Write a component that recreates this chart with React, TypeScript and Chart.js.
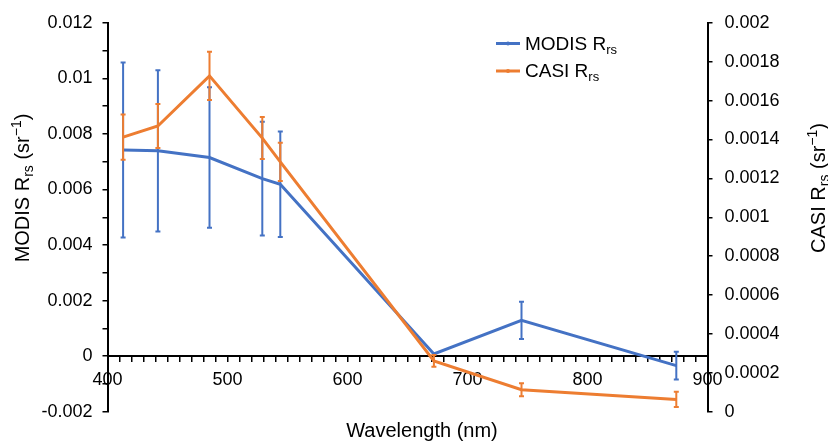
import { useEffect, useRef } from 'react';
import { Chart, registerables } from 'chart.js';

Chart.register(...registerables);

// ---- data ----
const wavelengths = [413, 442, 485, 529, 544, 672, 745, 874];
const modisRrs = [0.00742, 0.00739, 0.00715, 0.00639, 0.00619, 0.00008, 0.00129, -0.00034];
const modisErr = [0.00315, 0.0029, 0.00253, 0.00205, 0.0019, 0, 0.00067, 0.0005];
const casiRrs = [0.001412, 0.001469, 0.001727, 0.001407, 0.001285, 0.000261, 0.000113, 0.000063];
const casiErr = [0.000116, 0.000113, 0.000124, 0.000108, 0.0000985, 0.00003, 0.000033, 0.000039];

const xTickLabels = ['400', '500', '600', '700', '800', '900'];
const leftTickLabels = ['-0.002', '0', '0.002', '0.004', '0.006', '0.008', '0.01', '0.012'];
const rightTickLabels = ['0', '0.0002', '0.0004', '0.0006', '0.0008', '0.001', '0.0012', '0.0014', '0.0016', '0.0018', '0.002'];

const seriesNames = ['MODIS R', 'CASI R'];
const subText = 'rs';
const xTitle = 'Wavelength (nm)';

const FONT = '"Liberation Sans", Arial, Helvetica, sans-serif';
const BLUE = '#4472C4';
const ORANGE = '#ED7D31';

function findLabel(labels: string[], v: number, tol: number) {
  const f = labels.find((l) => Math.abs(parseFloat(l) - v) < tol);
  return f === undefined ? '' : f;
}

type Part = { text: string; size: number; dy: number };

function drawRich(ctx: CanvasRenderingContext2D, parts: Part[], x: number, y: number, rotation: number, align: 'center' | 'left') {
  ctx.save();
  ctx.translate(x, y);
  ctx.rotate(rotation);
  ctx.textBaseline = 'alphabetic';
  ctx.textAlign = 'left';
  ctx.fillStyle = '#000';
  const widths = parts.map((p) => {
    ctx.font = `${p.size}px ${FONT}`;
    return ctx.measureText(p.text).width;
  });
  const total = widths.reduce((a, b) => a + b, 0);
  let cx = align === 'center' ? -total / 2 : 0;
  parts.forEach((p, i) => {
    ctx.font = `${p.size}px ${FONT}`;
    ctx.fillText(p.text, cx, p.dy);
    cx += widths[i];
  });
  ctx.restore();
}

function titleParts(name: string, big: number, small: number): Part[] {
  return [
    { text: name, size: big, dy: 0 },
    { text: subText, size: small, dy: 4 },
    { text: ' (sr', size: big, dy: 0 },
    { text: '\u22121', size: small, dy: -8 },
    { text: ')', size: big, dy: 0 },
  ];
}

const errorSets = [modisErr, casiErr];

const errorBarPlugin = {
  id: 'errorBars',
  afterDatasetDraw(chart: any, args: any) {
    const ds = chart.data.datasets[args.index];
    const errs = errorSets[args.index];
    const values = args.index === 0 ? modisRrs : casiRrs;
    const xs = chart.scales.x;
    const ys = chart.scales[ds.yAxisID];
    const ctx = chart.ctx as CanvasRenderingContext2D;
    ctx.save();
    ctx.strokeStyle = ds.borderColor;
    ctx.lineWidth = 2;
    for (let i = 0; i < values.length; i++) {
      if (!errs[i]) continue;
      const x = xs.getPixelForValue(wavelengths[i]);
      const yt = ys.getPixelForValue(values[i] + errs[i]);
      const yb = ys.getPixelForValue(values[i] - errs[i]);
      ctx.beginPath();
      ctx.moveTo(x, yt);
      ctx.lineTo(x, yb);
      ctx.moveTo(x - 2.5, yt);
      ctx.lineTo(x + 2.5, yt);
      ctx.moveTo(x - 2.5, yb);
      ctx.lineTo(x + 2.5, yb);
      ctx.stroke();
    }
    ctx.restore();
  },
};

const textPlugin = {
  id: 'richText',
  afterDraw(chart: any) {
    const ctx = chart.ctx as CanvasRenderingContext2D;
    const cy = 188;
    drawRich(ctx, titleParts(seriesNames[0], 20, 14), 28.5, cy, -Math.PI / 2, 'center');
    drawRich(ctx, titleParts(seriesNames[1], 20, 14), 825, cy, -Math.PI / 2, 'center');
    drawRich(ctx, [{ text: xTitle, size: 20, dy: 0 }], 422, 437, 0, 'center');

    // legend
    const colors = [BLUE, ORANGE];
    const lineYs = [43.5, 71];
    colors.forEach((c, i) => {
      ctx.save();
      ctx.strokeStyle = c;
      ctx.lineWidth = 3;
      ctx.beginPath();
      ctx.moveTo(496, lineYs[i]);
      ctx.lineTo(520, lineYs[i]);
      ctx.stroke();
      ctx.fillStyle = c;
      ctx.beginPath();
      ctx.arc(508, lineYs[i], 2, 0, Math.PI * 2);
      ctx.fill();
      ctx.restore();
      drawRich(
        ctx,
        [
          { text: seriesNames[i], size: 19, dy: 0 },
          { text: subText, size: 13, dy: 4 },
        ],
        525,
        lineYs[i] + 6,
        0,
        'left'
      );
    });
  },
};

export default function App() {
  const ref = useRef<HTMLCanvasElement | null>(null);
  useEffect(() => {
    if (!ref.current) return;
    const tickFont = { family: FONT, size: 18 };
    const chart = new Chart(ref.current, {
      type: 'line',
      data: {
        datasets: [
          {
            label: 'MODIS Rrs',
            data: wavelengths.map((w, i) => ({ x: w, y: modisRrs[i] })),
            borderColor: BLUE,
            backgroundColor: BLUE,
            borderWidth: 3,
            pointRadius: 0,
            tension: 0,
            yAxisID: 'y',
            order: 1,
          },
          {
            label: 'CASI Rrs',
            data: wavelengths.map((w, i) => ({ x: w, y: casiRrs[i] })),
            borderColor: ORANGE,
            backgroundColor: ORANGE,
            borderWidth: 3,
            pointRadius: 0,
            tension: 0,
            yAxisID: 'y1',
            order: 0,
          },
        ],
      },
      options: {
        responsive: false,
        animation: false,
        devicePixelRatio: 1,
        layout: { padding: { top: 16, bottom: 31.3, left: 0, right: 0 } },
        plugins: { legend: { display: false }, tooltip: { enabled: false } },
        scales: {
          x: {
            type: 'linear',
            min: 400,
            max: 900,
            position: { y: 0 } as any,
            afterFit: (s: any) => {
              s.height = 0;
            },
            border: { display: true, color: '#000', width: 2 },
            grid: { display: true, drawOnChartArea: false, drawTicks: true, tickLength: 5, color: '#000', lineWidth: 1.5 },
            ticks: {
              stepSize: 10,
              autoSkip: false,
              maxRotation: 0,
              padding: 8,
              color: '#000',
              font: tickFont,
              callback: (v: any) => findLabel(xTickLabels, Number(v), 0.5),
            },
          },
          y: {
            type: 'linear',
            position: 'left',
            min: -0.002,
            max: 0.012,
            afterFit: (s: any) => {
              s.width = 107.5;
            },
            border: { display: true, color: '#000', width: 2 },
            grid: { display: true, drawOnChartArea: false, drawTicks: true, tickLength: 5, color: '#000', lineWidth: 1.5 },
            ticks: {
              stepSize: 0.001,
              autoSkip: false,
              padding: 10,
              color: '#000',
              font: tickFont,
              callback: (v: any) => findLabel(leftTickLabels, Number(v), 1e-7),
            },
          },
          y1: {
            type: 'linear',
            position: 'right',
            min: 0,
            max: 0.002,
            afterFit: (s: any) => {
              s.width = 120.5;
            },
            border: { display: true, color: '#000', width: 2 },
            grid: { display: true, drawOnChartArea: false, drawTicks: true, tickLength: 5, color: '#000', lineWidth: 1.5 },
            ticks: {
              stepSize: 0.0002,
              autoSkip: false,
              padding: 12,
              color: '#000',
              font: tickFont,
              callback: (v: any) => findLabel(rightTickLabels, Number(v), 1e-8),
            },
          },
        },
      } as any,
      plugins: [errorBarPlugin, textPlugin],
    });
    return () => chart.destroy();
  }, []);
  return (
    <div style={{ position: 'absolute', left: 0, top: 0, width: 828, height: 443, background: '#fff' }}>
      <canvas ref={ref} width={828} height={443} style={{ display: 'block' }} />
    </div>
  );
}
